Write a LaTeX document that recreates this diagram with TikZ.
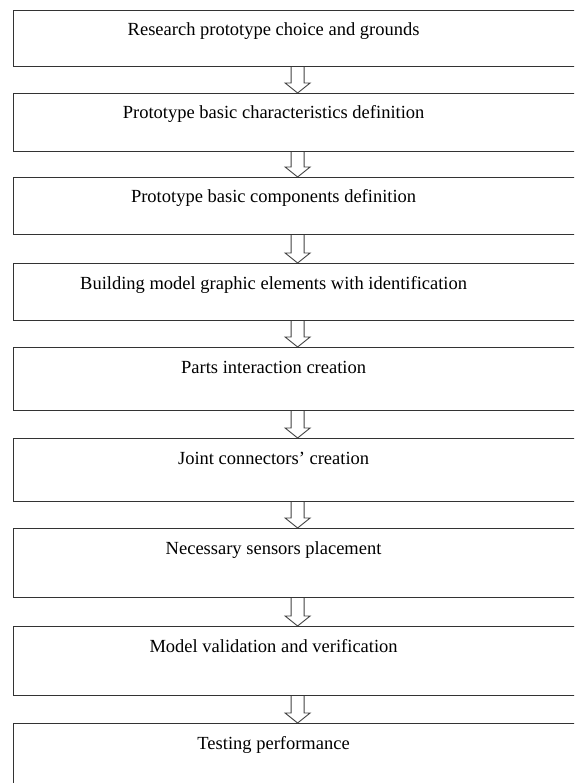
\documentclass[tikz,border=0pt]{standalone}
\usepackage{fontspec}
\setmainfont{Liberation Serif}
\usetikzlibrary{calc}

\tikzset{
  stepbox/.style={draw=black!80, line width=1.2pt, minimum width=568pt,
    inner sep=0pt, anchor=north west},
  steptext/.style={font=\fontsize{18.5}{20}\selectfont, anchor=base, inner sep=0pt},
  hollowarrow/.style={draw=black!75, line width=0.9pt, line join=miter}
}
% open block arrow between two steps
\newcommand{\flowarrow}[2]{%
  \draw[hollowarrow] ([xshift=-6.5pt]#1.south) -- ([xshift=-6.5pt,yshift=10pt]#2.north)
    -- ([xshift=-12.5pt,yshift=10pt]#2.north) -- (#2.north)
    -- ([xshift=12.5pt,yshift=10pt]#2.north) -- ([xshift=6.5pt,yshift=10pt]#2.north)
    -- ([xshift=6.5pt]#1.south);}

\begin{document}
\begin{tikzpicture}[x=1pt,y=-1pt]
\useasboundingbox (0,0) rectangle (574,783);
\clip (0,0) rectangle (574,783);

% steps
\node[stepbox, minimum height=56pt] (s1) at (13,10) {};
\node[stepbox, minimum height=58pt] (s2) at (13,93) {};
\node[stepbox, minimum height=57pt] (s3) at (13,177) {};
\node[stepbox, minimum height=57pt] (s4) at (13,263) {};
\node[stepbox, minimum height=63pt] (s5) at (13,347) {};
\node[stepbox, minimum height=63pt] (s6) at (13,438) {};
\node[stepbox, minimum height=69pt] (s7) at (13,528) {};
\node[stepbox, minimum height=69pt] (s8) at (13,626) {};
\node[stepbox, minimum height=80pt] (s9) at (13,723) {};

% texts
\node[steptext] (t1) at ([xshift=-24pt,yshift=-26pt]s1.north) {Research prototype choice and grounds};
\node[steptext] (t2) at ([xshift=-24pt,yshift=-26pt]s2.north) {Prototype basic characteristics definition};
\node[steptext] (t3) at ([xshift=-24pt,yshift=-26pt]s3.north) {Prototype basic components definition};
\node[steptext] (t4) at ([xshift=-24pt,yshift=-26pt]s4.north) {Building model graphic elements with identification};
\node[steptext] (t5) at ([xshift=-24pt,yshift=-26pt]s5.north) {Parts interaction creation};
\node[steptext] (t6) at ([xshift=-24pt,yshift=-26pt]s6.north) {Joint connectors' creation};
\node[steptext] (t7) at ([xshift=-24pt,yshift=-26pt]s7.north) {Necessary sensors placement};
\node[steptext] (t8) at ([xshift=-24pt,yshift=-26pt]s8.north) {Model validation and verification};
\node[steptext] (t9) at ([xshift=-24pt,yshift=-26pt]s9.north) {Testing performance};

% arrows
\foreach \a/\b in {s1/s2,s2/s3,s3/s4,s4/s5,s5/s6,s6/s7,s7/s8,s8/s9}
  \flowarrow{\a}{\b};
\end{tikzpicture}
\end{document}
